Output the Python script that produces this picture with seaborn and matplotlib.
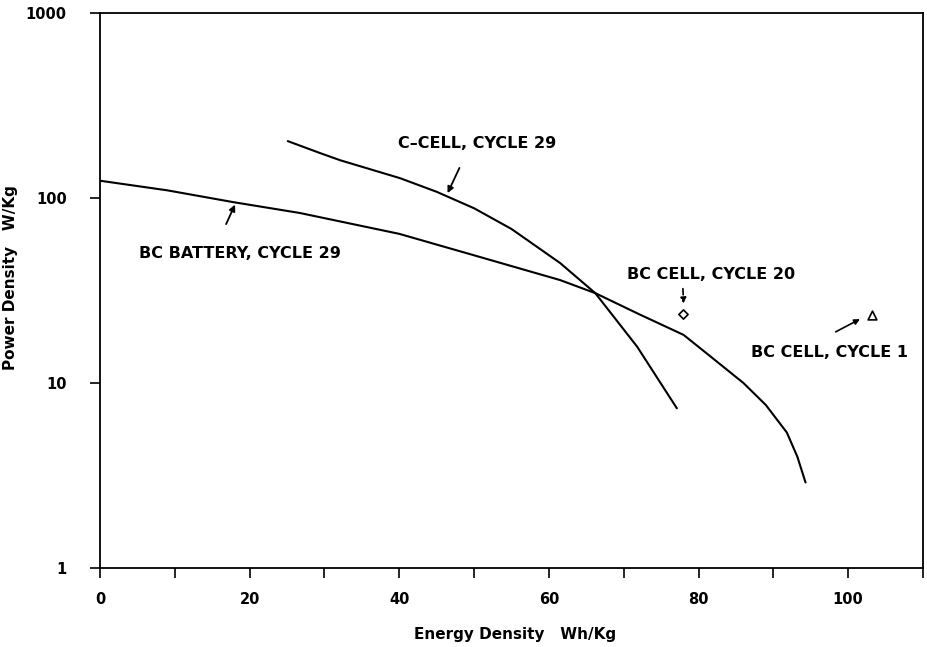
import matplotlib
matplotlib.use("Agg")
import matplotlib.pyplot as plt
import seaborn as sns
import pandas as pd

# --- data ---
battery_x = [0, 9, 17.8, 26.7, 40, 50, 61.5, 66.2, 72, 78, 82, 86, 89, 91.8, 93.2, 94.3]
battery_y = [124, 110, 95, 83, 64, 49, 36, 30.6, 23.6, 18.2, 13.5, 10, 7.6, 5.4, 4.0, 2.9]

ccell_x = [25.1, 29.4, 32.1, 40.1, 45, 50, 55, 61.5, 66.2, 71.8, 77.1]
ccell_y = [203, 175, 160, 128, 108, 88, 68, 44.5, 30.6, 15.7, 7.3]

cycle20_x = [77.9]
cycle20_y = [23.6]
cycle1_x = [103.2]
cycle1_y = [23.3]

x_ticks = [0, 10, 20, 30, 40, 50, 60, 70, 80, 90, 100, 110]
x_ticklabels = ["0", "", "20", "", "40", "", "60", "", "80", "", "100", ""]
y_ticks = [1, 10, 100, 1000]
y_ticklabels = ["1", "10", "100", "1000"]

sns.set_style("ticks")
plt.rcParams["font.family"] = ["DejaVu Sans"]

W, H = 927, 647
fig = plt.figure(figsize=(W / 100, H / 100), dpi=100)
ax = fig.add_axes([100 / W, 1 - 568 / H, (923 - 100) / W, (568 - 13) / H])

df_b = pd.DataFrame({"x": battery_x, "y": battery_y})
df_c = pd.DataFrame({"x": ccell_x, "y": ccell_y})
sns.lineplot(data=df_b, x="x", y="y", ax=ax, color="black", lw=1.5, sort=False)
sns.lineplot(data=df_c, x="x", y="y", ax=ax, color="black", lw=1.5, sort=False)
sns.scatterplot(x=cycle20_x, y=cycle20_y, ax=ax, marker="D", s=22,
                facecolor="white", edgecolor="black", linewidth=1.2, zorder=5)
sns.scatterplot(x=cycle1_x, y=cycle1_y, ax=ax, marker="^", s=40,
                facecolor="white", edgecolor="black", linewidth=1.2, zorder=5)

ax.set_yscale("log")
ax.set_xlim(0, 110)
ax.set_ylim(1, 1000)
ax.set_xticks(x_ticks)
ax.set_xticklabels(x_ticklabels)
ax.set_yticks(y_ticks)
ax.set_yticklabels(y_ticklabels)
ax.yaxis.set_minor_locator(matplotlib.ticker.NullLocator())
ax.tick_params(axis="both", which="major", direction="out", length=7, width=1.2,
               labelsize=10.5, colors="black")
ax.tick_params(axis="x", pad=10)
ax.tick_params(axis="y", pad=17)
for lab in ax.get_xticklabels() + ax.get_yticklabels():
    lab.set_fontweight("bold")
for sp in ax.spines.values():
    sp.set_visible(True)
    sp.set_linewidth(1.3)
    sp.set_color("black")

ax.set_xlabel("")
ax.set_ylabel("")
fig.text(515 / W, 1 - 635 / H, "Energy Density   Wh/Kg", ha="center", va="center",
         fontsize=11, fontweight="bold", color="black")
fig.text(11 / W, 1 - 278 / H, "Power Density   W/Kg", ha="center", va="center",
         rotation=90, fontsize=11, fontweight="bold", color="black")

tk = dict(fontsize=11.5, fontweight="bold", color="black")
ax.text(50.4, 198, "C\u2013CELL, CYCLE 29", ha="center", va="center", **tk)
ax.annotate("", xy=(46.3, 103), xytext=(48.2, 150),
            arrowprops=dict(arrowstyle="-|>", color="black", lw=1.3, mutation_scale=9))
ax.text(18.7, 50.4, "BC BATTERY, CYCLE 29", ha="center", va="center", **tk)
ax.annotate("", xy=(18.2, 95), xytext=(16.7, 70),
            arrowprops=dict(arrowstyle="-|>", color="black", lw=1.3, mutation_scale=9))
ax.text(81.7, 38.4, "BC CELL, CYCLE 20", ha="center", va="center", **tk)
ax.annotate("", xy=(78.0, 26.0), xytext=(77.9, 33.5),
            arrowprops=dict(arrowstyle="-|>", color="black", lw=1.2, ls="--", mutation_scale=8))
ax.text(97.5, 14.7, "BC CELL, CYCLE 1", ha="center", va="center", **tk)
ax.annotate("", xy=(101.9, 22.5), xytext=(98.0, 18.6),
            arrowprops=dict(arrowstyle="-|>", color="black", lw=1.2, mutation_scale=8))

fig.savefig("out.png", dpi=100)
